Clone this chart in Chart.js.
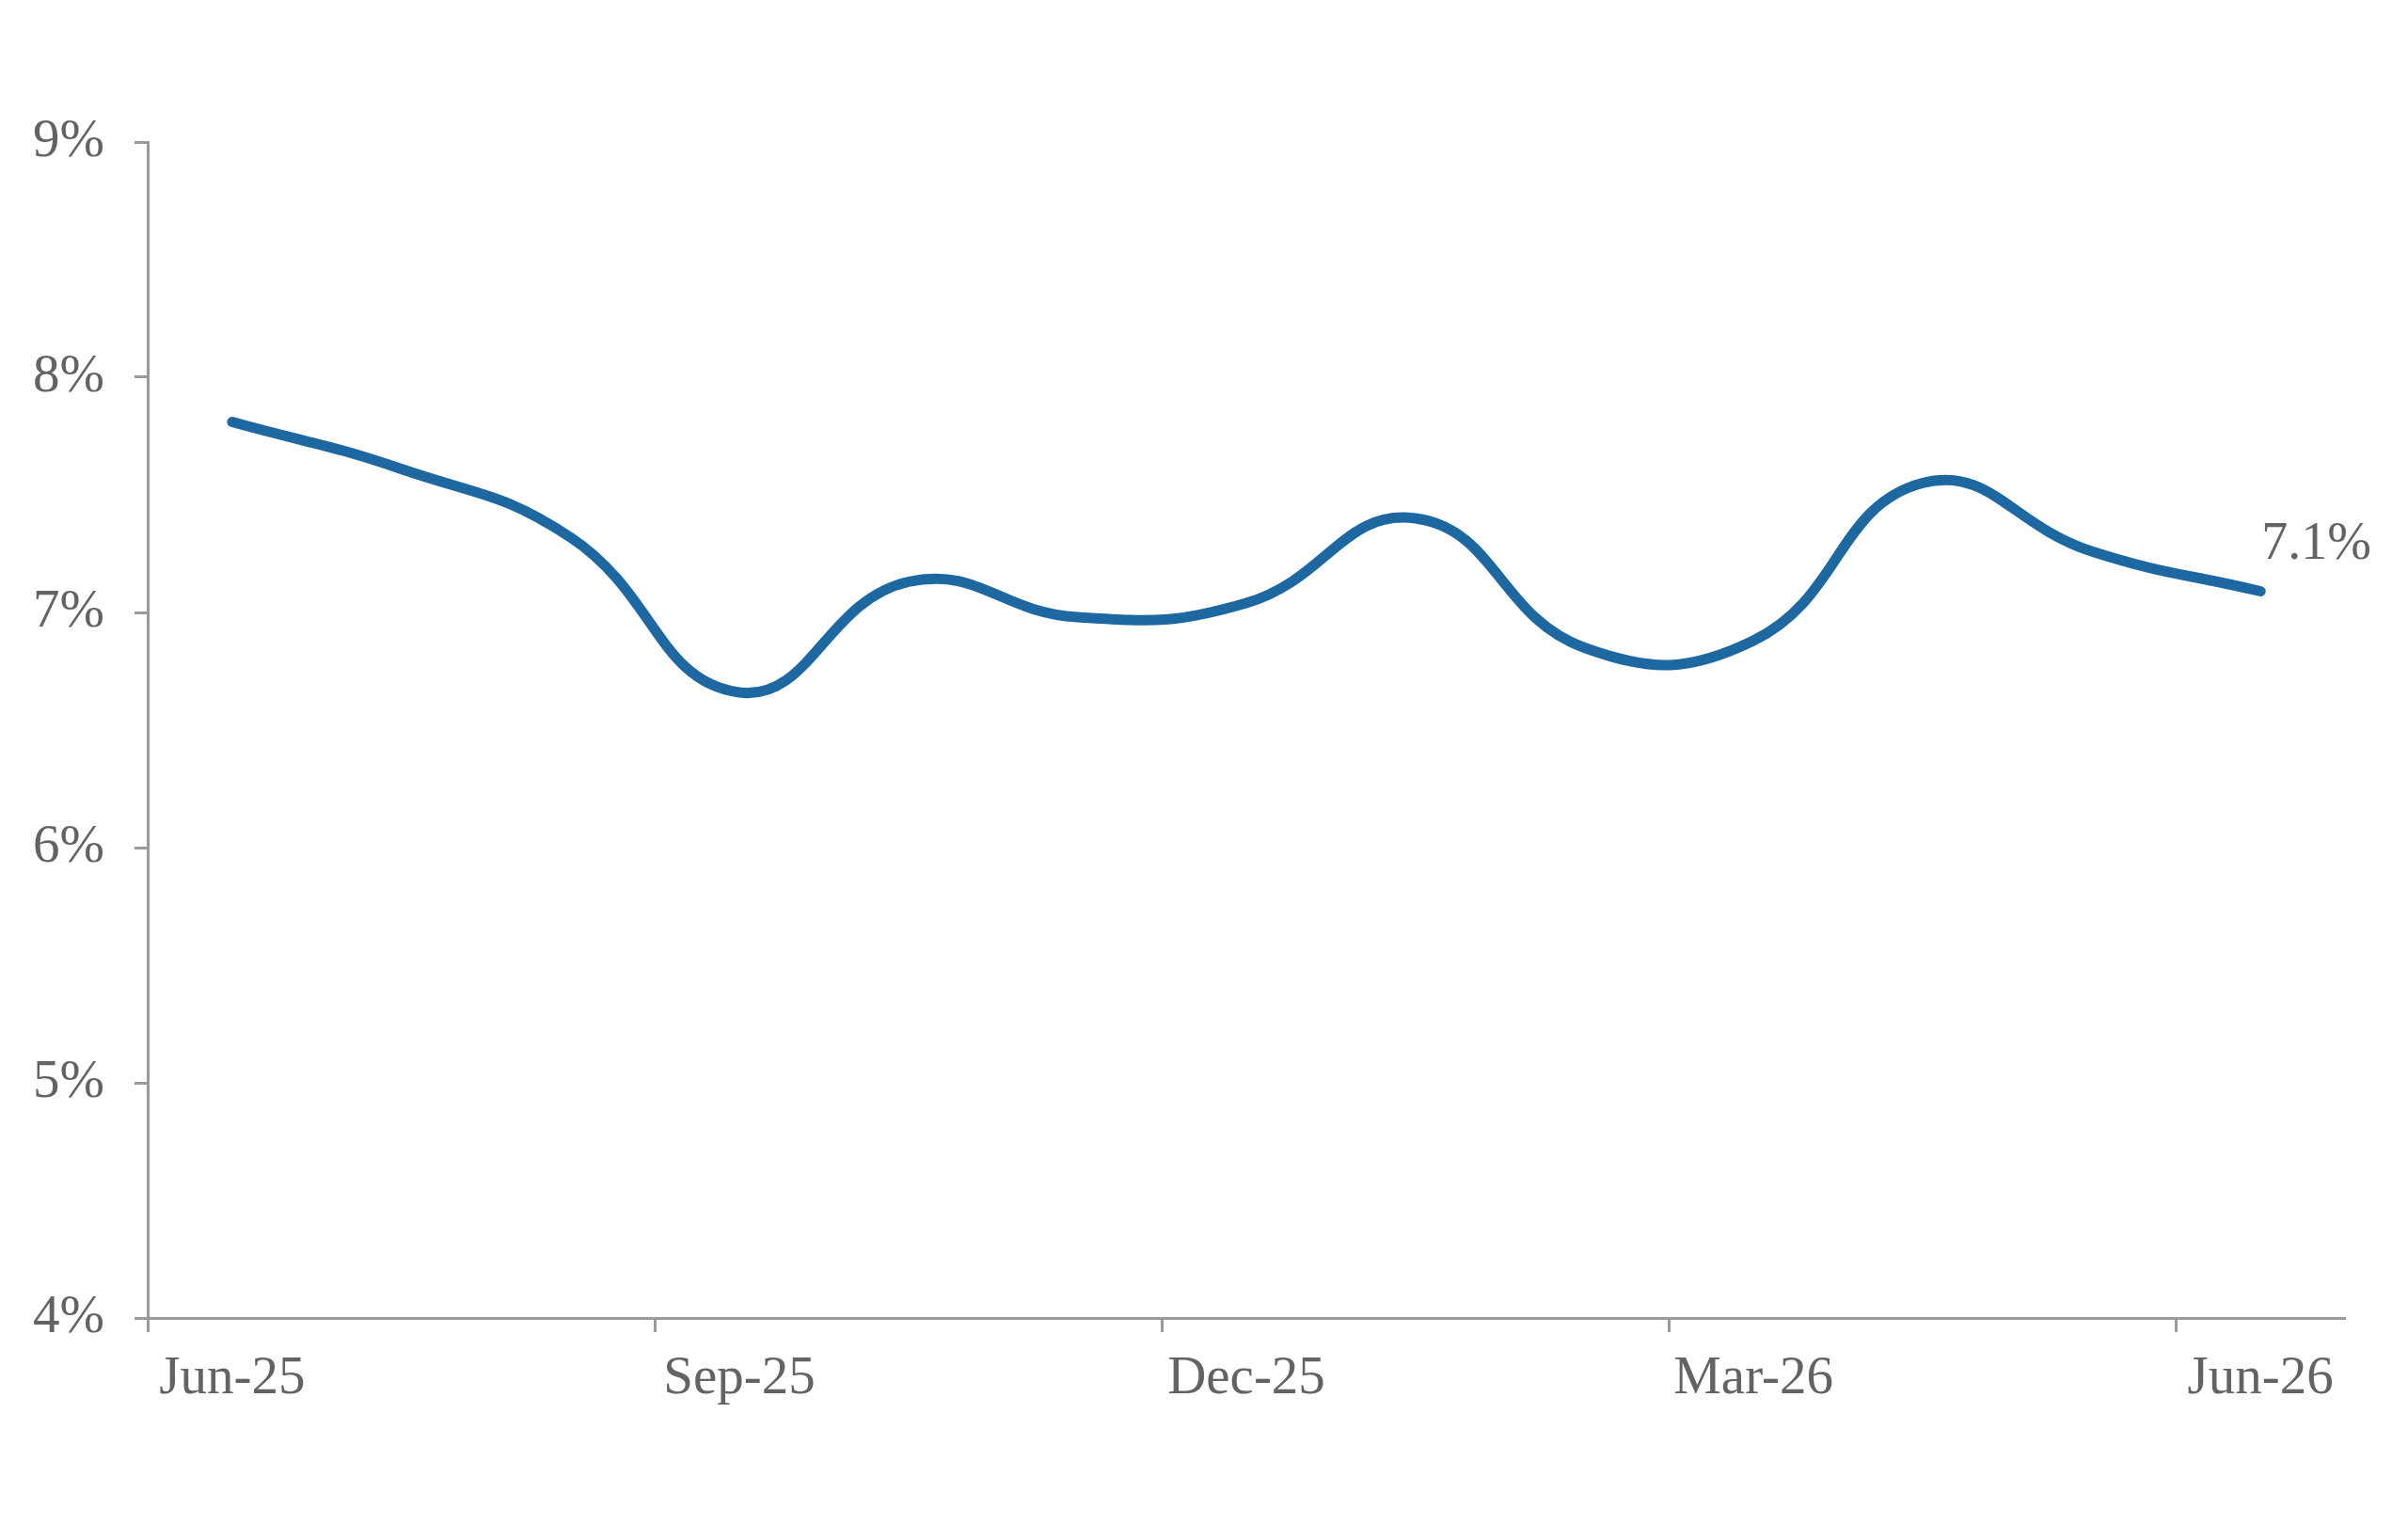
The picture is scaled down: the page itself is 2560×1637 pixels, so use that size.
<!DOCTYPE html>
<html lang="en">
<head>
  <meta charset="UTF-8">
  <title>Rate chart</title>
  <script src="https://cdn.jsdelivr.net/npm/chart.js"></script>
  <style>
    body {
      margin: 0;
      background: #ffffff;
    }
    #wrap {
      width: 2560px;
      height: 1637px;
    }
  </style>
</head>
<body>
  <div id="wrap">
    <canvas id="rateChart" width="2560" height="1637"></canvas>
  </div>

  <script>
    // Monthly values (%)
    const months = ["Jun-25", "Jul-25", "Aug-25", "Sep-25", "Oct-25", "Nov-25", "Dec-25",
                    "Jan-26", "Feb-26", "Mar-26", "Apr-26", "May-26", "Jun-26"];
    const rates = [7.81, 7.61, 7.32, 6.66, 7.13, 6.98, 7.04, 7.40, 6.85, 6.88, 7.55, 7.26, 7.09];
    const yTicks = [4, 5, 6, 7, 8, 9];
    const lastLabel = "7.1%";

    const axisGray = "#9a9a9a";
    const textGray = "#636363";
    const lineBlue = "#1e68a2";
    const labelFont = { family: "'Liberation Serif', serif", size: 57 };

    // draws the value next to the last point
    const endLabel = {
      id: 'endLabel',
      afterDatasetsDraw(chart) {
        const meta = chart.getDatasetMeta(0);
        const pt = meta.data[meta.data.length - 1];
        const ctx = chart.ctx;
        ctx.save();
        ctx.font = "56px 'Liberation Serif', serif";
        ctx.fillStyle = textGray;
        ctx.textAlign = 'left';
        ctx.textBaseline = 'alphabetic';
        ctx.fillText(lastLabel, pt.x + 1, pt.y - 35);
        ctx.restore();
      }
    };

    const chart = new Chart(document.getElementById('rateChart'), {
      type: 'line',
      data: {
        labels: months,
        datasets: [{
          data: rates,
          borderColor: lineBlue,
          borderWidth: 11,
          borderCapStyle: 'round',
          tension: 0.45,
          pointRadius: 0,
          fill: false
        }]
      },
      options: {
        responsive: false,
        animation: false,
        layout: {
          padding: { left: 0, right: 67, top: 151, bottom: 0 }
        },
        plugins: {
          legend: { display: false },
          tooltip: { enabled: false }
        },
        scales: {
          x: {
            offset: true,
            grid: {
              offset: true,
              drawOnChartArea: false,
              drawTicks: true,
              tickLength: 15,
              tickWidth: 3,
              tickColor: (c) => (c.index !== undefined && c.index % 3 === 0) ? axisGray : 'rgba(0,0,0,0)'
            },
            border: { color: axisGray, width: 3 },
            ticks: {
              autoSkip: false,
              maxRotation: 0,
              padding: 16,
              color: textGray,
              font: labelFont,
              callback: (v, i) => i % 3 === 0 ? months[i] : ''
            },
            afterFit: (s) => { s.height = 1637 - 1401; }
          },
          y: {
            min: yTicks[0],
            max: yTicks[yTicks.length - 1],
            afterBuildTicks: (s) => { s.ticks = yTicks.map(v => ({ value: v })); },
            grid: {
              drawOnChartArea: false,
              drawTicks: true,
              tickLength: 14,
              tickWidth: 3,
              color: axisGray
            },
            border: { color: axisGray, width: 3 },
            ticks: {
              padding: 32,
              color: textGray,
              font: labelFont,
              callback: (v) => v + '%'
            },
            afterFit: (s) => { s.width = 157; }
          }
        }
      },
      plugins: [endLabel]
    });
  </script>
</body>
</html>
